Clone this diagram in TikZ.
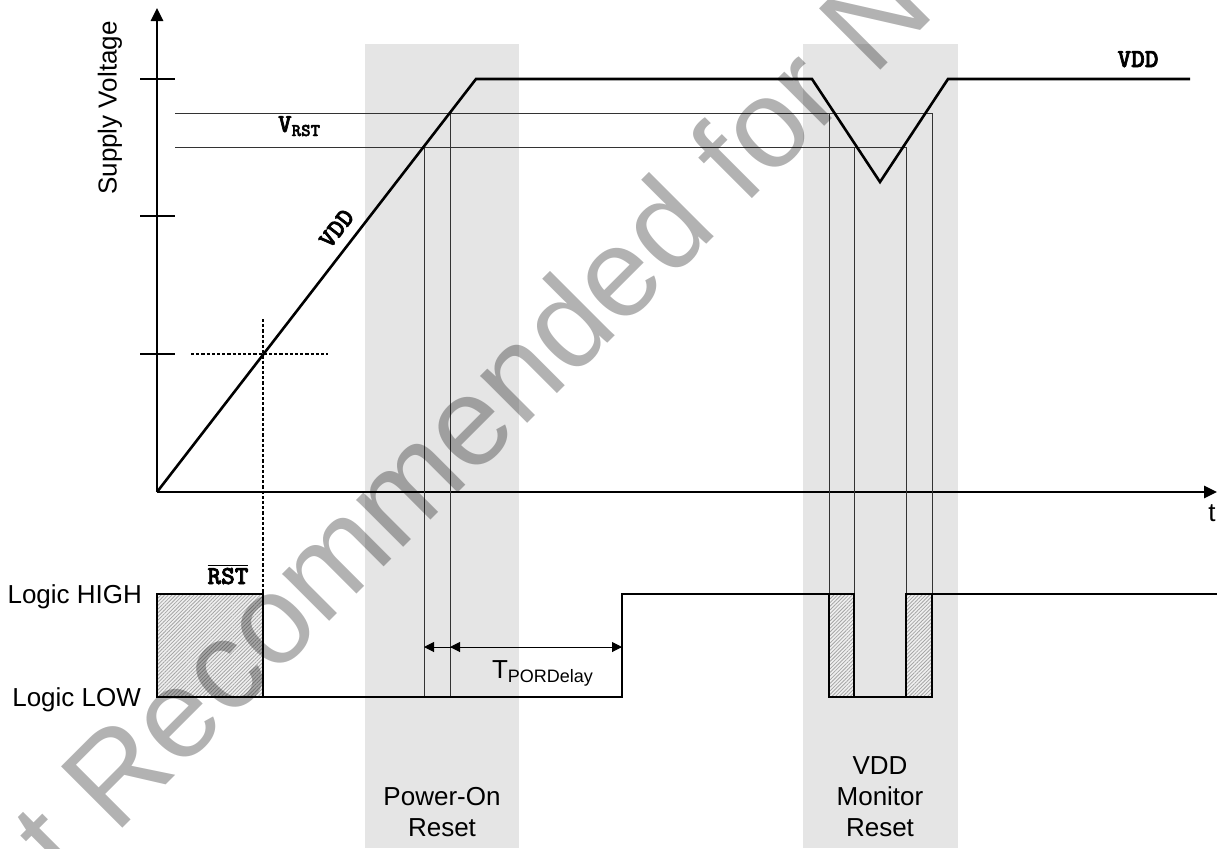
\documentclass[tikz,border=0pt]{standalone}
\usepackage{fontspec}
\setmainfont{Liberation Sans}
\newfontfamily\codefont{lmmonolt10-bold.otf}[FakeBold=2.5]
\usetikzlibrary{arrows.meta, patterns.meta, positioning}

\begin{document}
\begin{tikzpicture}[x=0.5pt, y=-0.5pt,
    sig/.style={line width=1.3pt, line join=miter},
    guide/.style={line width=0.5pt, black!80},
    dashline/.style={line width=0.6pt, dash pattern=on 1.6pt off 1pt},
    band/.style={fill=gray!20},
    hatchbox/.style={fill=gray!12, postaction={pattern={Lines[angle=45,distance=1.3pt,line width=0.4pt]}, pattern color=gray!70}},
    axisarrow/.style={-{Triangle[length=6.5pt,width=6pt]}},
    dimarrow/.style={-{Triangle[length=5pt,width=5pt]}},
    lbl/.style={font=\fontsize{13}{15.5}\selectfont},
    code/.style={font=\codefont\fontsize{13}{15}\selectfont}]
    \useasboundingbox (0,0) rectangle (1217,848);

    % Reset bands
    \fill[band] (365,44) rectangle (519,848);
    \fill[band] (803,44) rectangle (958,848);
    \node[lbl, align=center] (por) at (442,812) {Power-On\\Reset};
    \node[lbl, align=center] (mon) at (880,797) {VDD\\Monitor\\Reset};

    % Axes
    \coordinate (O) at (157,492);
    \coordinate (Ytop) at (157,8);
    \coordinate (Xend) at (1217,492);
    \draw[sig, axisarrow] (O) -- (Ytop);
    \draw[sig, axisarrow] (O) -- (Xend);
    \foreach \y in {79,216,354}
        \draw[sig] (140,\y) -- (175,\y);
    \node[lbl, rotate=90] (supply) at (110,108) {Supply Voltage};
    \node[lbl, anchor=north] (t) at (1212,498) {t};

    % Threshold lines
    \coordinate (r1a) at (175,113);
    \coordinate (r1b) at (932,113);
    \coordinate (r2a) at (175,147);
    \coordinate (r2b) at (906,147);
    \draw[guide] (r1a) -- (r1b);
    \draw[guide] (r2a) -- (r2b);
    \node[code, anchor=base west] (vrst) at (271,132) {V\raisebox{-2pt}{\fontsize{9}{10}\selectfont RST}};
    \foreach \x/\ya/\yb in {424/147/697, 450/113/697, 829/113/594, 854/147/594, 906/147/594, 932/113/594}
        \draw[guide] (\x,\ya) -- (\x,\yb);

    % VDD curve
    \coordinate (A) at (476,79);
    \coordinate (B) at (812,79);
    \coordinate (Dip) at (880,182);
    \coordinate (C) at (948,79);
    \coordinate (D) at (1190,79);
    \draw[sig] (O) -- node[code, sloped, above=1.5pt, pos=0.61] (vddramp) {VDD} (A) -- (B) -- (Dip) -- (C) -- (D);
    \node[code, anchor=base] (vddtop) at (1138,67) {VDD};

    % Crosshair
    \draw[dashline] (263,319) -- (263,594);
    \draw[dashline] (191,354) -- (328,354);

    % Reset signal
    \path[hatchbox] (157,594) rectangle (263,697);
    \path[hatchbox] (829,594) rectangle (854,697);
    \path[hatchbox] (906,594) rectangle (932,697);
    \draw[sig] (157,594) rectangle (263,697);
    \draw[sig] (829,594) rectangle (854,697);
    \draw[sig] (906,594) rectangle (932,697);
    \draw[sig] (263,697) -- (622,697) -- (622,594) -- (829,594);
    \draw[sig] (854,697) -- (906,697);
    \draw[sig] (932,594) -- (1217,594);
    \node[lbl, anchor=base east] (high) at (149,603) {Logic HIGH};
    \node[lbl, anchor=base east] (low) at (148,706) {Logic LOW};
    \node[code, anchor=base] (rst) at (228,584) {$\overline{\hbox{RST}}$};

    % Delay
    \coordinate (p1) at (424,647);
    \coordinate (p2) at (450,647);
    \coordinate (p3) at (622,647);
    \draw[guide, black, dimarrow] (p2) -- (p1);
    \draw[guide, black, dimarrow] (p2) -- (p3);
    \draw[guide, black, dimarrow] (p3) -- (p2);
    \node[lbl, anchor=base west] (tpor) at (485,678) {T\raisebox{-2pt}{\fontsize{9}{10}\selectfont PORDelay}};

    % Watermark
    \begin{scope}
        \clip (0,0) rectangle (1217,848);
        \node[rotate=45, anchor=base west, inner sep=0pt, text=black, text opacity=0.3,
              font=\fontsize{63}{63}\selectfont] (mark) at (-48,999) {Not Recommended for New Designs};
    \end{scope}
\end{tikzpicture}
\end{document}
